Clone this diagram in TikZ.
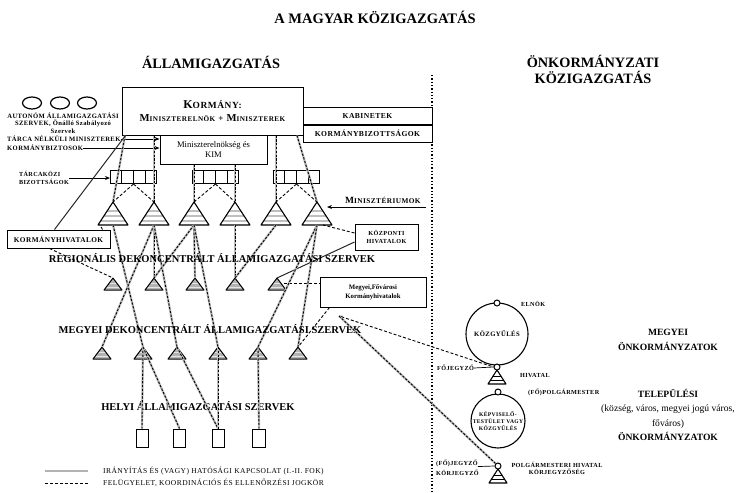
\documentclass[tikz,border=0pt]{standalone}
\usepackage{fontspec}
\setmainfont{Liberation Serif}
\newfontfamily\wf[LetterSpace=6]{Liberation Serif}
\usetikzlibrary{arrows.meta,calc,shapes.geometric}
\newcommand\fs[2]{\fontsize{#1}{#2}\selectfont}
\newcommand\minis[3]{%
  \coordinate (#1t) at (#2,#3);
  \coordinate (#1b) at (#2,#3+23);
  \begin{scope}
    \clip (#2,#3) -- (#2-15,#3+23) -- (#2+15,#3+23) -- cycle;
    \fill[white] (#2-15,#3) rectangle (#2+15,#3+23);
    \foreach \s in {9,14,19} \draw[gray!50,line width=2.2pt] (#2-16,#3+\s) -- (#2+16,#3+\s);
  \end{scope}
  \draw[line width=1.1pt,line join=round] (#2,#3) -- (#2-15,#3+23) -- (#2+15,#3+23) -- cycle;
}
\newcommand\smtri[3]{%
  \coordinate (#1t) at (#2,#3);
  \coordinate (#1b) at (#2,#3+12);
  \begin{scope}
    \clip (#2,#3) -- (#2-9,#3+12) -- (#2+9,#3+12) -- cycle;
    \fill[gray!60] (#2-9,#3) rectangle (#2+9,#3+12);
    \foreach \s in {5,9} \draw[gray!20,line width=0.8pt] (#2-10,#3+\s) -- (#2+10,#3+\s);
  \end{scope}
  \draw[line width=1pt,line join=round] (#2,#3) -- (#2-9,#3+12) -- (#2+9,#3+12) -- cycle;
}
\newcommand\hvtri[3]{%
  \coordinate (#1t) at (#2,#3);
  \begin{scope}
    \clip (#2,#3) -- (#2-9,#3+14) -- (#2+9,#3+14) -- cycle;
    \fill[white] (#2-9,#3) rectangle (#2+9,#3+14);
    \foreach \s in {6,10} \draw[black,line width=0.8pt] (#2-10,#3+\s) -- (#2+10,#3+\s);
  \end{scope}
  \draw[line width=1.1pt,line join=round] (#2,#3) -- (#2-9,#3+14) -- (#2+9,#3+14) -- cycle;
}
\tikzset{
  box/.style={draw, line width=1pt, inner sep=1pt, align=center, fill=white},
  both/.style={draw=gray!55, line width=2.2pt, postaction={draw=black, line width=0.9pt, dash pattern=on 2.2pt off 1.6pt}},
  dsh/.style={draw=black, line width=0.9pt, dash pattern=on 3pt off 2pt},
  sol/.style={draw=black!85, line width=1pt},
  arr/.style={draw, line width=1pt, -{Stealth[length=5pt,width=4pt]}},
  lbl/.style={inner sep=0pt, align=center, font=\wf\bfseries\fs{6.6}{7.5}},
  rlbl/.style={inner sep=0pt, align=center, font=\wf\bfseries\fs{6.2}{7}},
  head/.style={inner sep=0pt, font=\bfseries\fs{10.5}{12}},
  small/.style={circle, draw, line width=1pt, minimum size=6pt, inner sep=0pt, fill=white},
  cell/.style={draw, line width=1pt, minimum height=13pt, inner sep=0pt, fill=white},
  ell/.style={ellipse, draw, line width=1.2pt, minimum width=19pt, minimum height=12pt, inner sep=0pt},
  loc/.style={draw, line width=1pt, minimum width=12pt, minimum height=18pt, inner sep=0pt},
}
\begin{document}
\begin{tikzpicture}[x=1pt,y=-1pt]
\useasboundingbox (0,0) rectangle (748,493);
% headings
\node[font=\bfseries\fs{14.5}{16}] (title) at (375,17) {A MAGYAR KÖZIGAZGATÁS};
\node[font=\bfseries\fs{14.3}{16}] (allam) at (211,62) {ÁLLAMIGAZGATÁS};
\node[font=\bfseries\fs{14.3}{15.5}, align=center] (onk) at (593,69.5) {ÖNKORMÁNYZATI\\KÖZIGAZGATÁS};
% divider
\coordinate (divT) at (432,75);
\coordinate (divB) at (432,493);
\draw[dotted, line width=1.3pt] (divT) -- (divB);

% triangles
\minis{m1}{113}{202}
\minis{m2}{154}{202}
\minis{m3}{194}{202}
\minis{m4}{235}{202}
\minis{m5}{276}{202}
\minis{m6}{317}{202}
\smtri{r1}{113}{278}
\smtri{r2}{154}{278}
\smtri{r3}{195}{278}
\smtri{r4}{235}{278}
\smtri{r5}{277}{278}
\smtri{c1}{102}{347}
\smtri{c2}{143}{347}
\smtri{c3}{177}{347}
\smtri{c4}{218}{347}
\smtri{c5}{258}{347}
\smtri{c6}{298}{347}

% top boxes
\node[box, minimum width=107pt, minimum height=29pt, font=\fs{8.6}{10}] (kim) at (213.5,149.5) {Miniszterelnökség és\\KIM};
\node[box, minimum width=181pt, minimum height=48pt, font=\wf\bfseries] (korm) at (212.5,111)
  {{\fs{12}{12}K}{\fs{9.4}{12}ORMÁNY:}\\[1pt]{\fs{10.6}{11}M}{\fs{7.2}{11}INISZTERELNÖK} {\fs{9}{11}+} {\fs{10.6}{11}M}{\fs{7.2}{11}INISZTEREK}};
\node[box, minimum width=129pt, minimum height=17.5pt, font=\wf\bfseries\fs{7.6}{8}] (kab) at (367.5,116) {KABINETEK};
\node[box, minimum width=129pt, minimum height=17pt, font=\wf\bfseries\fs{7.6}{8}] (kbiz) at (367.5,133.5) {KORMÁNYBIZOTTSÁGOK};

% ellipses
\node[ell] (e1) at (32,103) {};
\node[ell] (e2) at (60,103) {};
\node[ell] (e3) at (87,103) {};
\node[lbl] (aut) at (63,123) {AUTONÓM ÁLLAMIGAZGATÁSI\\SZERVEK, Önálló Szabályozó\\Szervek};
\node[lbl, anchor=west] (tnm1) at (7,139) {TÁRCA NÉLKÜLI MINISZTEREK};
\node[lbl, anchor=west] (tnm2) at (7,148) {KORMÁNYBIZTOSOK};
\draw[arr] (tnm1.east) -- (tnm1.east -| kim.west);
\draw[arr] (tnm2.east) -- (tnm2.east -| kim.west);

% tarcakozi boxes
\foreach \n/\x in {b1/110,b2/192,b3/273}{
  \node[cell, minimum width=46pt, anchor=west] (\n) at (\x,177) {};
  \foreach \i in {0.25,0.5,0.75}
    \draw[line width=1pt] ($(\n.north west)!\i!(\n.north east)$) -- ($(\n.south west)!\i!(\n.south east)$);
}
\node[lbl, align=left, font=\wf\bfseries\fs{6.2}{8}] (tkb) at (44,178) {TÁRCAKÖZI\\BIZOTTSÁGOK};
\draw[arr] (tkb.east) -- (tkb.east -| b1.west);

% Kormany -> ministries
\draw[both] ($(m1t |- korm.south)+(12,0)$) -- (m1t);
\draw[both] (m2t |- korm.south) -- (m2t);
\draw[both] (m3t |- kim.south) -- (m3t);
\draw[both] (m4t |- kim.south) -- (m4t);
\draw[both] (m5t |- korm.south) -- (m5t);
\draw[both] ($(m6t |- korm.south)+(-20,0)$) -- (m6t);
\foreach \b/\p/\q in {b1/m1/m2,b2/m3/m4,b3/m5/m6}{
  \draw[dsh] (\b.south) -- (\p t);
  \draw[dsh] (\b.south) -- (\q t);
}

% kormanyhivatalok etc
\node[box, minimum width=103pt, minimum height=18pt, font=\wf\bfseries\fs{7.3}{8}] (khiv) at (58.5,239) {KORMÁNYHIVATALOK};
\draw[sol] ($(korm.south west)+(4,0)$) -- ($(khiv.north west)+(48,0)$);
\draw[dsh] ($(khiv.north east)+(-8,0)$) -- ($(m1b)+(-13,0)$);
\draw[dsh] ($(khiv.south west)+(43,0)$) -- (r1t);

\node[font=\wf\bfseries\fs{7.3}{8}, inner sep=0pt, anchor=west] (min) at (345,200) {{\fs{9.5}{8}M}INISZTÉRIUMOK};
\coordinate (minA) at (426,207);
\draw[arr] (minA) -- ($(m6t)+(10,5)$);

\node[box, minimum width=63pt, minimum height=26pt, font=\wf\bfseries\fs{6.2}{8}] (kozp) at (386.5,237) {KÖZPONTI\\HIVATALOK};
\draw[dsh] ($(kozp.west)+(0,-4)$) -- ($(m6b)+(6,0)$);
\draw[sol] ($(kozp.west)+(0,5)$) -- (r5t);

\node[box, minimum width=106pt, minimum height=30pt, font=\bfseries\fs{6.8}{9}] (megy) at (373,292) {Megyei,Fővárosi\\Kormányhivatalok};
\draw[dsh] ($(r5t)+(7,5)$) -- ($(megy.west)+(0,-9)$);
\draw[dsh] ($(megy.south west)+(10,0)$) -- (c6t);

% ministries -> lower levels
\draw[both] (m1b) -- (c2t);
\draw[both] (m2b) -- (c1t);
\draw[both] (m2b) -- (r2t);
\draw[both] (m2b) -- (c3t);
\draw[both] (m3b) -- (r2t);
\draw[both] (m3b) -- (r3t);
\draw[both] (m3b) -- (c4t);
\draw[both] (m4b) -- (r4t);
\draw[both] (m5b) -- (r4t);
\draw[both] (m6b) -- (c5t);
\draw[both] (m6b) -- (c6t);

% headings of levels
\node[head] (reg) at (212,258) {REGIONÁLIS DEKONCENTRÁLT ÁLLAMIGAZGATÁSI SZERVEK};
\node[head] (meg) at (210,329) {MEGYEI DEKONCENTRÁLT ÁLLAMIGAZGATÁSI SZERVEK};
\node[head] (hel) at (198,406) {HELYI ÁLLAMIGAZGATÁSI SZERVEK};

% local offices
\node[loc] (l1) at (142,438) {};
\node[loc] (l2) at (179.5,438) {};
\node[loc] (l3) at (218,438) {};
\node[loc, minimum width=13pt] (l4) at (259,438) {};
\draw[both] (c2t) -- (l1.north);
\draw[both] (c2t) -- (l2.north);
\draw[both] (c3t) -- (l3.north);
\draw[both] (c4t) -- (l3.north);
\draw[both] (c5t) -- (l4.north);

% legend
\coordinate (lg1a) at (45,471); \coordinate (lg1b) at (88,471);
\coordinate (lg2a) at (45,483); \coordinate (lg2b) at (88,483);
\draw[draw=gray!60, line width=1.6pt] (lg1a) -- (lg1b);
\draw[dsh] (lg2a) -- (lg2b);
\node[anchor=west, inner sep=0pt, font=\wf\fs{7.5}{8}] (leg1) at (103,471) {IRÁNYÍTÁS ÉS (VAGY) HATÓSÁGI KAPCSOLAT (I.-II. FOK)};
\node[anchor=west, inner sep=0pt, font=\wf\fs{7.5}{8}] (leg2) at (103,483) {FELÜGYELET, KOORDINÁCIÓS ÉS ELLENŐRZÉSI JOGKÖR};

% self-government side
\node[circle, draw, line width=1.1pt, minimum size=62pt, inner sep=0pt, font=\wf\bfseries\fs{6.7}{7}] (kgy) at (497,334) {KÖZGYŰLÉS};
\node[small] (eln) at (497,303) {};
\hvtri{hv1}{497}{370}
\node[small] (fj1) at (497,367) {};
\node[circle, draw, line width=1.1pt, minimum size=54pt, inner sep=0pt, font=\wf\bfseries\fs{5.6}{7}, align=center] (kt) at (498,421) {KÉPVISELŐ-\\TESTÜLET VAGY\\KÖZGYŰLÉS};
\node[small] (pm) at (498,392) {};
\hvtri{hv2}{498}{469}
\node[small] (fj2) at (498,466) {};

\node[rlbl, anchor=west] (elnt) at (521,304) {ELNÖK};
\node[rlbl, anchor=west] (fjt) at (437,368) {FŐJEGYZŐ};
\draw[line width=0.7pt] (fjt.east) -- (fj1.west);
\node[rlbl, anchor=west] (hvt) at (520,375) {HIVATAL};
\node[rlbl, anchor=west] (pmt) at (528,392) {(FŐ)POLGÁRMESTER};
\node[rlbl, anchor=west] (j2a) at (436,463) {(FŐ)JEGYZŐ};
\node[rlbl, anchor=west] (j2b) at (436,473) {KÖRJEGYZŐ};
\draw[line width=0.7pt] (j2a.south east) -- (fj2.west);
\node[rlbl] (pht) at (557,468) {POLGÁRMESTERI HIVATAL\\KÖRJEGYZŐSÉG};

\coordinate (p0) at (339,316);
\draw[dsh, {Stealth[length=4pt,width=3pt]}-] (p0) -- (fj1.west);
\draw[both] (p0) -- (fj2.north west);

\node[font=\bfseries\fs{9.6}{15}, align=center] (monk) at (668,340) {MEGYEI\\ÖNKORMÁNYZATOK};
\node[font=\fs{9.6}{14.5}, align=center] (tonk) at (668,415) {{\bfseries TELEPÜLÉSI}\\(község, város, megyei jogú város,\\főváros)\\{\bfseries ÖNKORMÁNYZATOK}};
\end{tikzpicture}
\end{document}
